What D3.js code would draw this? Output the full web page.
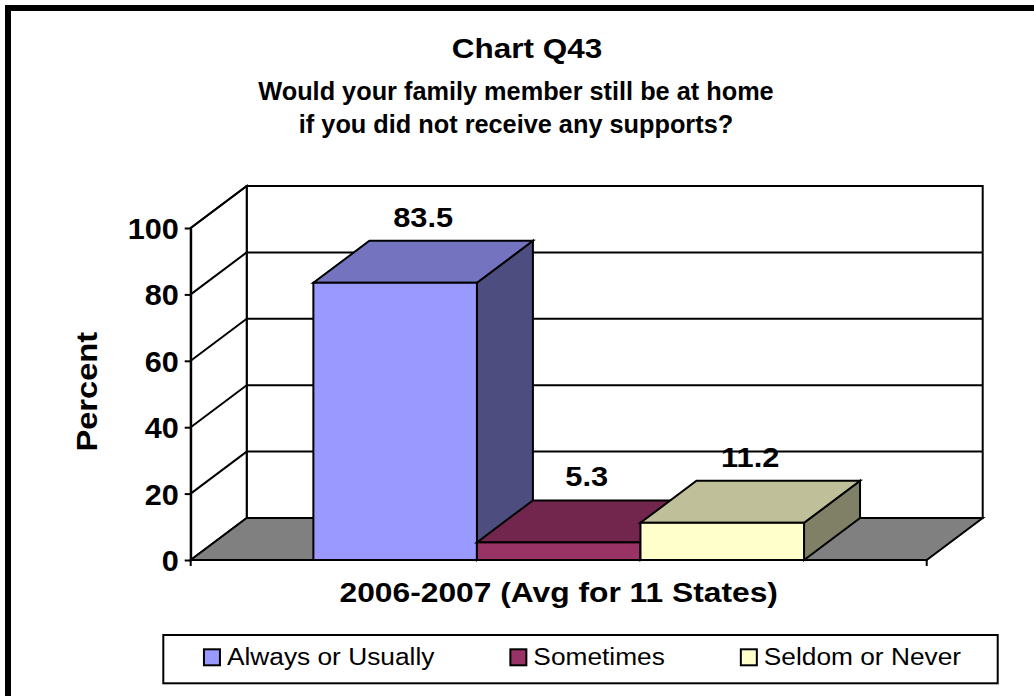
<!DOCTYPE html>
<html>
<head>
<meta charset="utf-8">
<script src="https://cdn.jsdelivr.net/npm/d3@7"></script>
<style>
  body { margin: 0; background: #fff; }
  svg { display: block; }
  text { font-family: Arial, "Liberation Sans", sans-serif; fill: #000; }
</style>
</head>
<body>
<svg id="chart" width="1034" height="696"></svg>
<script>
// ---- data ----
const categories = ["2006-2007 (Avg for 11 States)"];
const seriesNames = ["Always or Usually", "Sometimes", "Seldom or Never"];
const seriesValues = [83.5, 5.3, 11.2];
const yTicks = [0, 20, 40, 60, 80, 100];
const titleText = "Chart Q43";
const subtitleLines = ["Would your family member still be at home", "if you did not receive any supports?"];
const yAxisTitle = "Percent";
const seriesColors = ["#9999FF", "#993366", "#FFFFCC"];

// ---- layout ----
const svg = d3.select("#chart");
const plot = { left: 190.7, right: 926.7, top: 228, bottom: 560 };
const depth = { dx: 56, dy: 42 };
const lineW = 2;

const y = d3.scaleLinear().domain([0, 100]).range([plot.bottom, plot.top]);
const xCat = d3.scaleBand().domain(categories).range([plot.left, plot.right]);
const xSer = d3.scaleBand().domain(seriesNames)
  .range([0, xCat.bandwidth()]).paddingInner(0).paddingOuter(0.75);
const color = d3.scaleOrdinal().domain(seriesNames).range(seriesColors);

const shade = (c, k) => {
  const r = d3.rgb(c);
  return d3.rgb(r.r * k, r.g * k, r.b * k).formatHex();
};
const poly = pts => "M" + pts.map(p => p.join(",")).join("L") + "Z";
// horizontally widened glyphs, placed at (x, y) with an optional rotation
const placeText = (sel, x, y, sx, rot = 0) =>
  sel.attr("x", 0).attr("y", 0)
     .attr("transform", `translate(${x},${y}) rotate(${rot}) scale(${sx},1)`);

// outer frame
svg.append("path")
  .attr("d", "M8,720V8H1060")
  .attr("fill", "none").attr("stroke", "#000").attr("stroke-width", 6);

// ---- walls and floor ----
const L = plot.left, R = plot.right, T = plot.top, B = plot.bottom;
const dx = depth.dx, dy = depth.dy;
const walls = svg.append("g").attr("stroke", "#000").attr("stroke-width", lineW)
  .attr("stroke-linejoin", "miter");

walls.append("rect")
  .attr("x", L + dx).attr("y", T - dy)
  .attr("width", R - L).attr("height", B - T)
  .attr("fill", "#fff");
walls.append("path")
  .attr("d", poly([[L, B], [L, T], [L + dx, T - dy], [L + dx, B - dy]]))
  .attr("fill", "#fff");

// gridlines on back wall and side wall
const grid = walls.append("g").attr("fill", "none");
yTicks.filter(t => t > 0).forEach(t => {
  const yy = y(t);
  grid.append("line")
    .attr("x1", L + dx).attr("x2", R + dx)
    .attr("y1", yy - dy).attr("y2", yy - dy);
  grid.append("line")
    .attr("x1", L).attr("y1", yy)
    .attr("x2", L + dx).attr("y2", yy - dy);
});

walls.append("path")
  .attr("d", poly([[L, B], [R, B], [R + dx, B - dy], [L + dx, B - dy]]))
  .attr("fill", "#808080");

// ---- value axis ----
const tickSx = 1.055;
const yAxis = d3.axisLeft(y).tickValues(yTicks).tickSize(6).tickSizeOuter(0).tickPadding(6);
const yg = svg.append("g").attr("transform", `translate(${L},0)`).call(yAxis);
yg.select(".domain").attr("stroke-width", lineW);
yg.selectAll(".tick line").attr("stroke-width", lineW);
yg.selectAll(".tick text")
  .attr("font-size", 29).attr("font-weight", "bold")
  .attr("x", -12 / tickSx)
  .attr("transform", `scale(${tickSx},1)`)
  .attr("dy", "0.36em");

// ---- category axis ----
const xAxis = d3.axisBottom(xCat).tickSize(0).tickPadding(21.8);
const xg = svg.append("g").attr("transform", `translate(0,${B})`).call(xAxis);
xg.select(".domain").remove();
xg.selectAll(".tick text")
  .attr("font-size", 28).attr("font-weight", "bold")
  .attr("transform", "scale(1.135,1)");
// the tick text sits at x=0 inside a translated tick group, so scaling keeps it centred
// boundary ticks of the category
categories.forEach(c => {
  [xCat(c), xCat(c) + xCat.bandwidth()].forEach(xx => {
    svg.append("line")
      .attr("x1", xx).attr("x2", xx).attr("y1", B).attr("y2", B + 6)
      .attr("stroke", "#000").attr("stroke-width", lineW);
  });
});

// ---- 3D bars ----
const bars = svg.append("g").attr("stroke", "#000").attr("stroke-width", lineW)
  .attr("stroke-linejoin", "miter");
const barData = seriesNames.map((s, i) => ({ name: s, value: seriesValues[i], cat: categories[0] }));

barData.forEach(d => {
  const x0 = xCat(d.cat) + xSer(d.name);
  const w = xSer.bandwidth();
  const yt = y(d.value), yb = y(0);
  const c = color(d.name);
  const g = bars.append("g");
  // right side face
  g.append("path")
    .attr("d", poly([[x0 + w, yb], [x0 + w, yt], [x0 + w + dx, yt - dy], [x0 + w + dx, yb - dy]]))
    .attr("fill", shade(c, 0.5));
  // top face
  g.append("path")
    .attr("d", poly([[x0, yt], [x0 + w, yt], [x0 + w + dx, yt - dy], [x0 + dx, yt - dy]]))
    .attr("fill", shade(c, 0.75));
  // front face
  g.append("rect")
    .attr("x", x0).attr("y", yt).attr("width", w).attr("height", yb - yt)
    .attr("fill", c);
});

// value labels
svg.append("g").selectAll("text").data(barData).join("text")
  .attr("text-anchor", "middle")
  .attr("font-size", 28.4).attr("font-weight", "bold")
  .text(d => d.value.toFixed(1))
  .each(function (d) {
    placeText(d3.select(this),
      xCat(d.cat) + xSer(d.name) + xSer.bandwidth() / 2 + dx / 2,
      y(d.value) - dy - 14, 1.085);
  });

// ---- titles ----
placeText(svg.append("text")
  .attr("text-anchor", "middle")
  .attr("font-size", 28).attr("font-weight", "bold")
  .text(titleText), 527, 58.3, 1.125);

svg.append("g").selectAll("text").data(subtitleLines).join("text")
  .attr("x", 516).attr("y", (d, i) => 100 + i * 33.3)
  .attr("text-anchor", "middle")
  .attr("font-size", 25.3).attr("font-weight", "bold")
  .text(d => d);

placeText(svg.append("text")
  .attr("text-anchor", "middle")
  .attr("font-size", 29).attr("font-weight", "bold")
  .text(yAxisTitle), 97.3, 391.7, 1.125, -90);

// ---- legend ----
const legendBox = { x: 163.3, y: 635, w: 834.4, h: 48.3 };
svg.append("rect")
  .attr("x", legendBox.x).attr("y", legendBox.y)
  .attr("width", legendBox.w).attr("height", legendBox.h)
  .attr("fill", "#fff").attr("stroke", "#000").attr("stroke-width", lineW);

const sw = 16, swGap = 7, itemGap = 76, legSx = 1.11;
const legend = svg.append("g");
const items = legend.selectAll("g").data(seriesNames).join("g");
items.append("rect")
  .attr("width", sw).attr("height", sw)
  .attr("fill", d => color(d)).attr("stroke", "#000").attr("stroke-width", lineW);
items.append("text")
  .attr("font-size", 23.7)
  .text(d => d)
  .each(function () { placeText(d3.select(this), sw + swGap, sw - 0.5, legSx); });

const widths = [];
items.each(function () {
  widths.push(sw + swGap + legSx * d3.select(this).select("text").node().getComputedTextLength());
});
const total = d3.sum(widths) + itemGap * (widths.length - 1);
let cursor = legendBox.x + legendBox.w / 2 - total / 2 + 2;
items.attr("transform", (d, i) => {
  const tx = cursor;
  cursor += widths[i] + itemGap;
  return `translate(${tx},${legendBox.y + 14.3})`;
});
</script>
</body>
</html>
